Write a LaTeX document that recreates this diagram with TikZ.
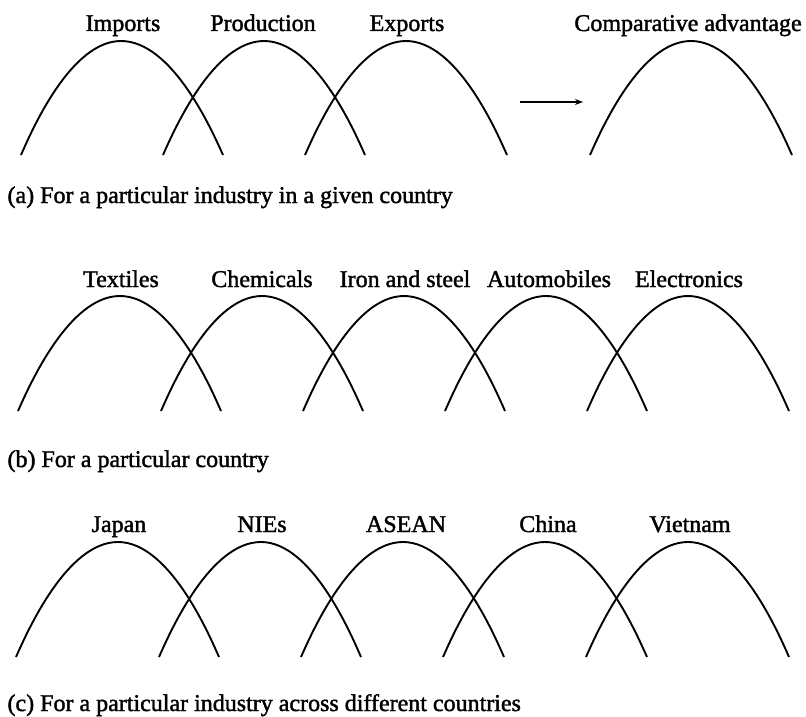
\documentclass[tikz,border=0pt]{standalone}
\usepackage{fontspec}
\setmainfont{Liberation Serif}
\newfontfamily\diagramfont{Liberation Serif}[FakeBold=1.6]
\usetikzlibrary{arrows.meta}

\tikzset{
  hump/.style={line width=1.9pt},
  curvename/.style={anchor=base,font=\diagramfont\fontsize{24}{28}\selectfont},
  panelcaption/.style={anchor=base west,font=\diagramfont\fontsize{24}{28}\selectfont}
}

\begin{document}
\begin{tikzpicture}[x=1pt,y=-1pt]
    \useasboundingbox (0,0) rectangle (806,717);

    % Panel (a): one industry in one country
    \draw[hump] (21,155) parabola bend (121,41) (223,155);
    \draw[hump] (163,155) parabola bend (264,41) (365,155);
    \draw[hump] (305,155) parabola bend (406,41) (507,155);
    \draw[hump] (590,155) parabola bend (691,41) (792,155);

    \node[curvename] (imports) at (123,31) {Imports};
    \node[curvename] (production) at (263,31) {Production};
    \node[curvename] (exports) at (407,31) {Exports};
    \node[curvename] (compadv) at (688,31) {Comparative advantage};

    % Arrow towards the comparative advantage curve
    \coordinate (arrowtail) at (520,102);
    \coordinate (arrowhead) at (583,102);
    \draw[line width=1.2pt,-{Stealth[length=8pt,width=6pt]}] (arrowtail) -- (arrowhead);

    \node[panelcaption] (capa) at (4,203) {(a) For a particular industry in a given country};

    % Panel (b): one country, successive industries
    \draw[hump] (18,411) parabola bend (120,296) (221,411);
    \draw[hump] (161,411) parabola bend (262,296) (363,411);
    \draw[hump] (303,411) parabola bend (404,296) (505,411);
    \draw[hump] (445,411) parabola bend (546,296) (647,411);
    \draw[hump] (587,411) parabola bend (688,296) (789,411);

    \node[curvename] (textiles) at (121,287) {Textiles};
    \node[curvename] (chemicals) at (262,287) {Chemicals};
    \node[curvename] (ironsteel) at (405,287) {Iron and steel};
    \node[curvename] (automobiles) at (549,287) {Automobiles};
    \node[curvename] (electronics) at (689,287) {Electronics};

    \node[panelcaption] (capb) at (4,467) {(b) For a particular country};

    % Panel (c): one industry moving across countries
    \draw[hump] (16,657) parabola bend (118,542) (219,657);
    \draw[hump] (159,657) parabola bend (261,542) (361,657);
    \draw[hump] (301,657) parabola bend (403,542) (504,657);
    \draw[hump] (443,657) parabola bend (545,542) (647,657);
    \draw[hump] (586,657) parabola bend (688,542) (789,657);

    \node[curvename] (japan) at (119,532) {Japan};
    \node[curvename] (nies) at (262,532) {NIEs};
    \node[curvename] (asean) at (406,532) {ASEAN};
    \node[curvename] (china) at (548,532) {China};
    \node[curvename] (vietnam) at (690,532) {Vietnam};

    \node[panelcaption] (capc) at (4,711) {(c) For a particular industry across different countries};
\end{tikzpicture}
\end{document}
